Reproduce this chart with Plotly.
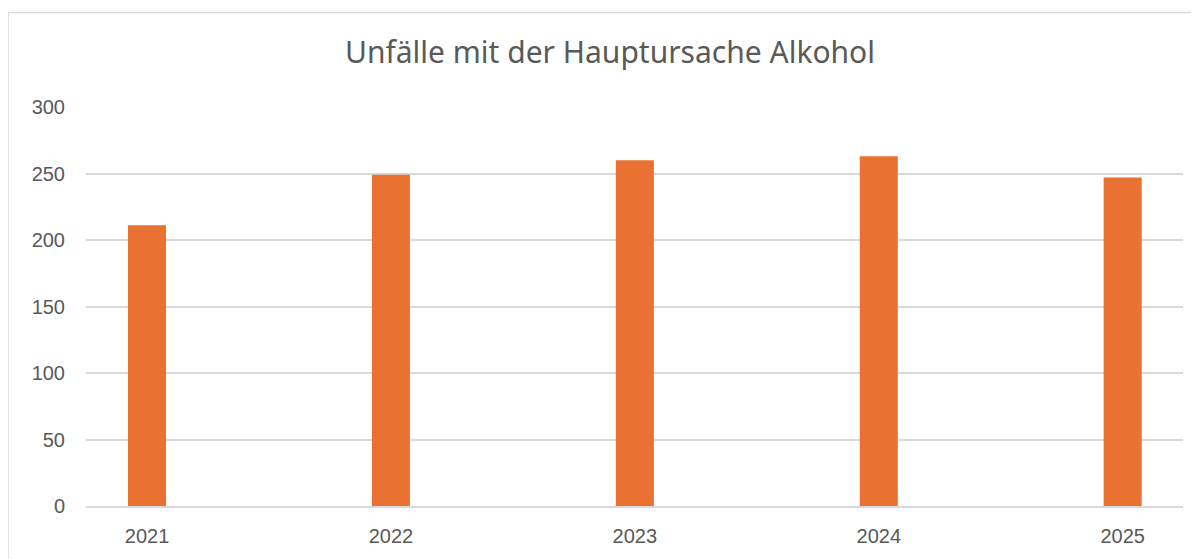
import plotly.graph_objects as go

years = [2021, 2022, 2023, 2024, 2025]
values = [211, 249, 260, 263, 247]
y_ticks = [0, 50, 100, 150, 200, 250, 300]
title_text = "Unfälle mit der Hauptursache Alkohol"

# page body has an 8px margin; work in figure coords = reference px - 8
OFF = 8
W, H = 1199 - OFF, 559 - OFF
L, R, T, B = 86 - OFF, W - (1183 - OFF), 107 - OFF, H - (508 - OFF)
pw, ph = W - L - R, H - T - B

fig = go.Figure(go.Bar(
    x=years, y=values, width=0.156,
    marker=dict(color="#E97132", line=dict(width=0)),
    hoverinfo="x+y",
))

fig.update_layout(
    width=W, height=H,
    margin=dict(l=L, r=R, t=T, b=B, pad=0),
    paper_bgcolor="white", plot_bgcolor="white",
    showlegend=False,
    title=dict(
        text=title_text, x=(610 - 86) / pw, xref="paper", xanchor="center",
        y=1 - (52 - OFF) / H, yref="container", yanchor="middle",
        font=dict(family="Noto Sans, Open Sans, sans-serif", size=30, color="#595959"),
    ),
    xaxis=dict(
        range=[2021 - 61 / 243.9, 2025 + 60.3 / 243.9],
        tickmode="array", tickvals=years, ticktext=[str(y) for y in years],
        showgrid=False, zeroline=False, showline=True, linecolor="#d9d9d9", linewidth=1.5,
        ticks="", ticklabelstandoff=11,
        tickfont=dict(family="Liberation Sans, Arial, sans-serif", size=20, color="#595959"),
        fixedrange=True,
    ),
    yaxis=dict(
        range=[0, 300], tickmode="array", tickvals=y_ticks,
        showgrid=True, gridcolor="#d9d9d9", gridwidth=1.5,
        zeroline=False, showline=False, ticks="", ticklabelstandoff=20,
        tickfont=dict(family="Liberation Sans, Arial, sans-serif", size=20, color="#595959"),
        fixedrange=True,
    ),
    shapes=[dict(
        type="rect", xref="paper", yref="paper",
        x0=(8 - 86) / pw, x1=(1240 - 86) / pw,
        y0=(508 - 620) / ph, y1=1 + (107 - 12) / ph,
        line=dict(color="#d9d9d9", width=1.5), fillcolor="rgba(0,0,0,0)",
        layer="below",
    )],
)

fig.write_html("out.html", config=dict(displayModeBar=False))
